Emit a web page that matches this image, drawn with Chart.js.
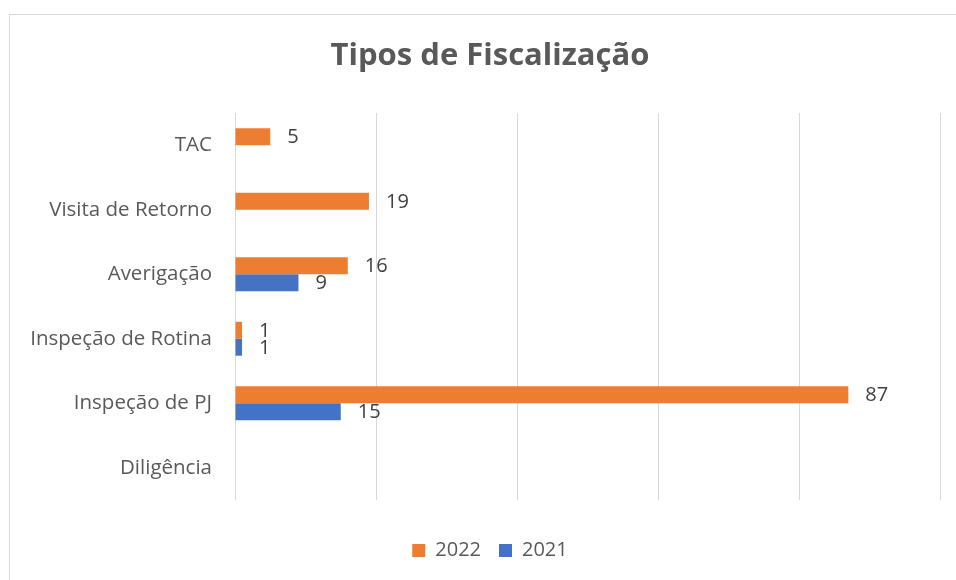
<!DOCTYPE html>
<html>
<head>
<meta charset="utf-8">
<script src="https://cdn.jsdelivr.net/npm/chart.js@4.4.1/dist/chart.umd.min.js"></script>
<style>
  html, body { margin: 0; padding: 0; background: #ffffff; overflow: hidden; width: 956px; height: 580px; }
  #frame { position: absolute; left: 9px; top: 14px; width: 960px; height: 580px;
           border-left: 1px solid #d9d9d9; border-top: 1px solid #d9d9d9; }
  #c { position: absolute; left: 0; top: 0; }
</style>
</head>
<body>
<div id="frame"><canvas id="c" width="960" height="565"></canvas></div>
<script>
const categories = ['TAC', 'Visita de Retorno', 'Averigação', 'Inspeção de Rotina', 'Inspeção de PJ', 'Diligência'];
const seriesNames = ['2022', '2021'];
const values2022 = [5, 19, 16, 1, 87, null];
const values2021 = [null, null, 9, 1, 15, null];
const xTicks = [0, 20, 40, 60, 80, 100];

const FONT = '"Open Sans", Lato, "Liberation Sans", sans-serif';
const TEXT = '#595959';

const valueLabels = {
  id: 'valueLabels',
  afterLayout(chart) {
    // let the category labels use the space on the left of the axis box
    chart.scales.y.left = 0;
  },
  afterDatasetsDraw(chart) {
    const ctx = chart.ctx;
    ctx.save();
    ctx.font = '20px ' + FONT;
    ctx.fillStyle = '#404040';
    ctx.textAlign = 'left';
    ctx.textBaseline = 'middle';
    chart.data.datasets.forEach((ds, di) => {
      const meta = chart.getDatasetMeta(di);
      meta.data.forEach((bar, i) => {
        const v = ds.data[i];
        if (v === null || v === undefined) return;
        ctx.fillText(String(v), bar.x + 17, bar.y + 1);
      });
    });
    ctx.restore();
  }
};

new Chart(document.getElementById('c'), {
  type: 'bar',
  data: {
    labels: categories,
    datasets: [
      { label: seriesNames[0], data: values2022, backgroundColor: '#ED7D31', borderWidth: 0 },
      { label: seriesNames[1], data: values2021, backgroundColor: '#4472C4', borderWidth: 0 }
    ]
  },
  options: {
    indexAxis: 'y',
    responsive: false,
    animation: false,
    devicePixelRatio: 1,
    categoryPercentage: 0.526,
    barPercentage: 1.0,
    layout: { padding: { left: 30, right: 30, top: 0, bottom: 9.5 } },
    plugins: {
      title: {
        display: true,
        text: 'Tipos de Fiscalização',
        color: TEXT,
        font: { family: FONT, size: 31, weight: 'bold', lineHeight: 1.2 },
        padding: { top: 22.5, bottom: 38.3 }
      },
      legend: {
        display: true,
        position: 'bottom',
        labels: {
          color: TEXT,
          font: { family: FONT, size: 20 },
          boxWidth: 13,
          boxHeight: 13,
          padding: 18
        }
      },
      tooltip: { enabled: false }
    },
    scales: {
      x: {
        min: xTicks[0],
        max: xTicks[xTicks.length - 1],
        afterBuildTicks(scale) { scale.ticks = xTicks.map(v => ({ value: v })); },
        ticks: { display: false },
        grid: { color: '#d9d9d9', lineWidth: 1, drawTicks: false },
        border: { display: false },
        afterFit(scale) { scale.height = 22.5; }
      },
      y: {
        ticks: { color: TEXT, font: { family: FONT, size: 20.5 }, padding: 23 },
        grid: { display: false, drawTicks: false },
        border: { display: false },
        afterFit(scale) { scale.width = 195; }
      }
    }
  },
  plugins: [valueLabels]
});
</script>
</body>
</html>
